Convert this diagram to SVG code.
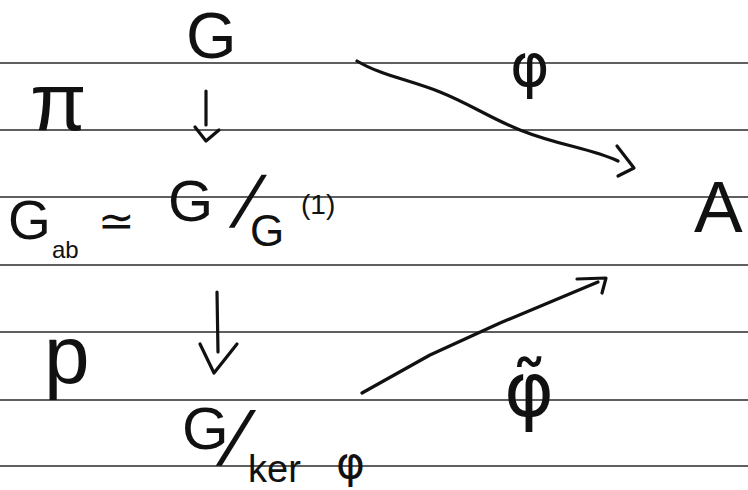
<svg xmlns="http://www.w3.org/2000/svg" width="748" height="490" viewBox="0 0 748 490">
  <style>
    .rule { stroke: #2a2a2a; stroke-width: 1.6; }
    .t { font-family: "Liberation Sans", "DejaVu Sans", sans-serif; fill: #111; }
    .d { font-family: "DejaVu Sans", "Liberation Sans", sans-serif; fill: #111; }
    .ink { fill: none; stroke: #111; stroke-width: 3.2; stroke-linecap: round; stroke-linejoin: round; }
  </style>
  <rect width="748" height="490" fill="#fff"/>
  <g id="paper">
    <line class="rule" x1="0" y1="63" x2="748" y2="63"/>
    <line class="rule" x1="0" y1="130" x2="748" y2="130"/>
    <line class="rule" x1="0" y1="197" x2="748" y2="197"/>
    <line class="rule" x1="0" y1="265" x2="748" y2="265"/>
    <line class="rule" x1="0" y1="332" x2="748" y2="332"/>
    <line class="rule" x1="0" y1="400" x2="748" y2="400"/>
    <line class="rule" x1="0" y1="466" x2="748" y2="466"/>
  </g>
  <g id="connectors">
    <g id="pi-arrow">
      <path class="ink" d="M206,91 L206,125"/>
      <path class="ink" d="M195,127 L206,141 L219,130"/>
    </g>
    <g id="p-arrow">
      <path class="ink" d="M217,292 L218,352"/>
      <path class="ink" d="M200,344 L214,373 L237,344"/>
    </g>
    <g id="phi-arrow">
      <path class="ink" d="M357,61 C 380,75 410,80 440,92 C 470,104 490,118 520,130 C 560,146 590,148 618,161" stroke-width="4"/>
      <path class="ink" d="M617,146 L634,168 L618,176" stroke-width="4"/>
    </g>
    <g id="phitilde-arrow">
      <path class="ink" d="M362,393 L430,355 L500,323 L598,282"/>
      <path class="ink" d="M577,279 L606,278 L602,293"/>
    </g>
  </g>
  <g id="node-G">
    <text class="t" x="186" y="58" font-size="65">G</text>
  </g>
  <g id="node-Gab">
    <text class="t" x="8" y="239" font-size="55">G</text>
    <text class="t" x="52" y="258" font-size="24">ab</text>
    <text class="d" x="98" y="236" font-size="44">≃</text>
    <text class="t" x="168" y="221" font-size="58">G</text>
    <text class="t" transform="translate(229,227) skewX(-19)" font-size="72">/</text>
    <text class="t" x="250" y="246" font-size="44">G</text>
    <text class="t" x="301" y="214" font-size="28">(1)</text>
  </g>
  <g id="node-Gker">
    <text class="t" x="182" y="449" font-size="60">G</text>
    <text class="t" transform="translate(216,465) skewX(-19)" font-size="76">/</text>
    <text class="t" x="248" y="482" font-size="38">ker</text>
    <text class="d" x="336" y="478" font-size="44">φ</text>
  </g>
  <g id="node-A">
    <text class="t" x="694" y="232" font-size="73">A</text>
  </g>
  <g id="labels">
    <text class="t" x="30" y="130" font-size="82">π</text>
    <text class="t" x="44" y="383" font-size="82">p</text>
    <text class="d" x="510" y="86" font-size="60">φ</text>
    <text class="d" x="504" y="416" font-size="76">φ̃</text>
  </g>
</svg>
